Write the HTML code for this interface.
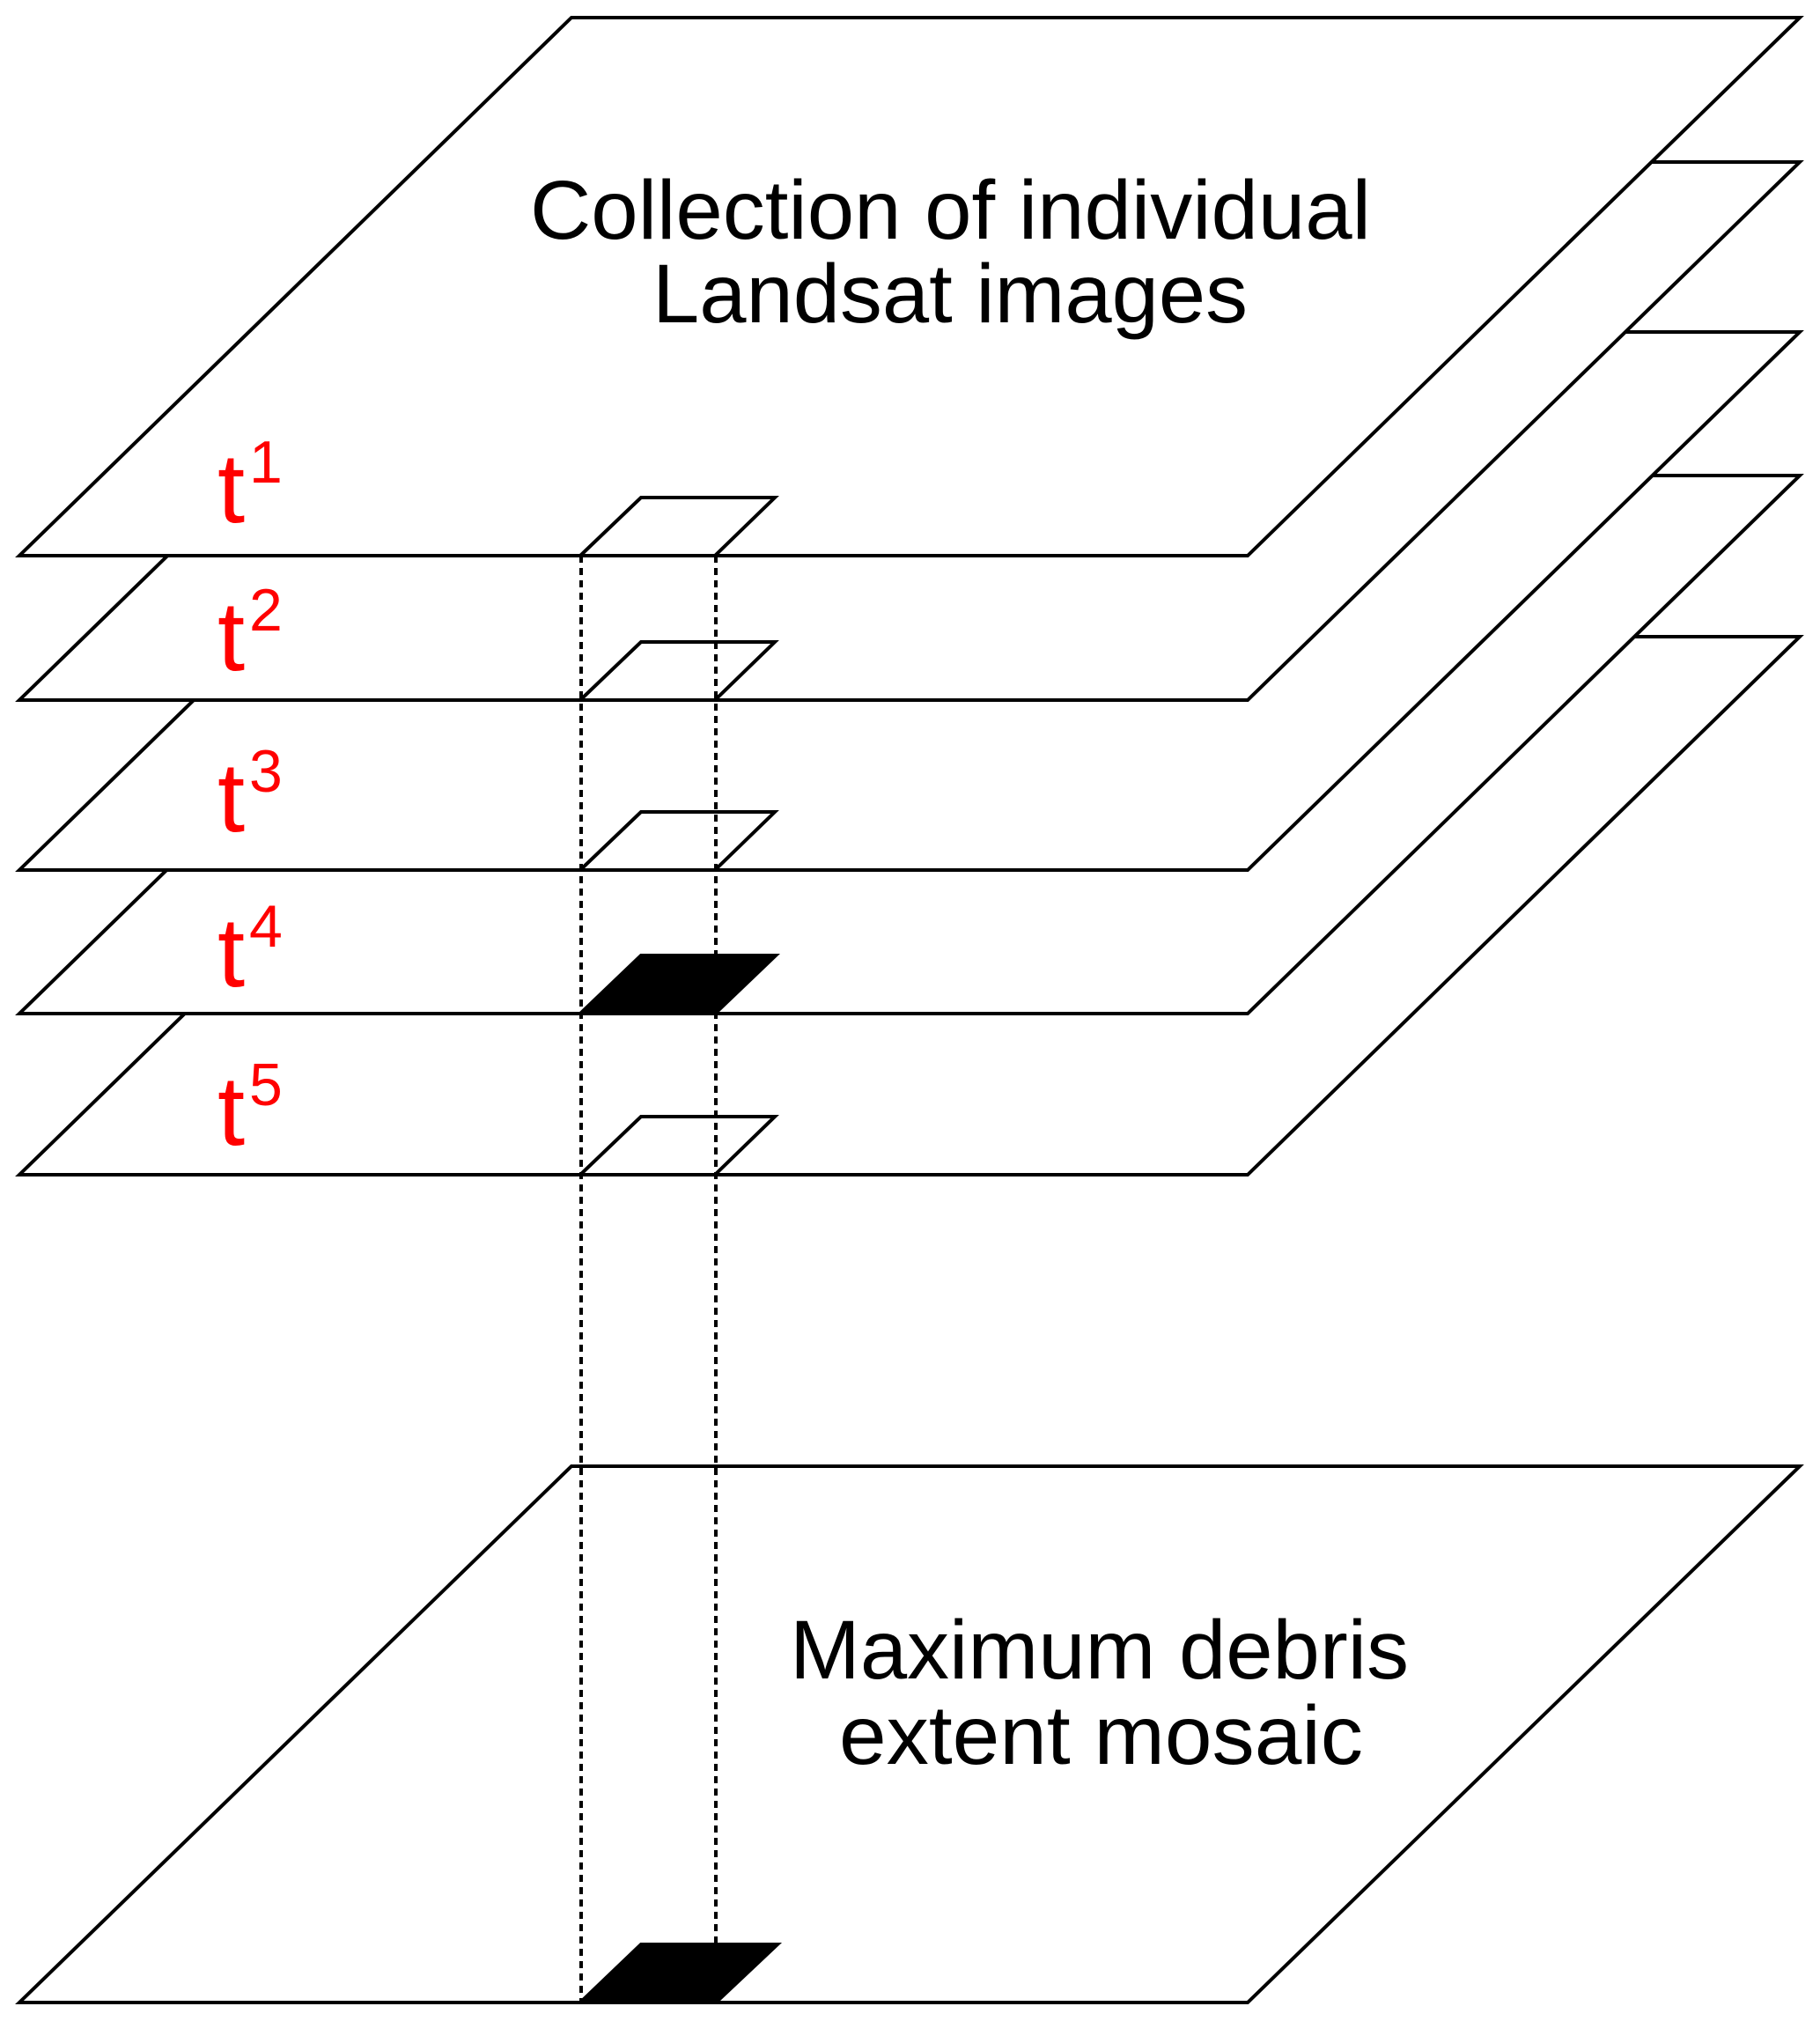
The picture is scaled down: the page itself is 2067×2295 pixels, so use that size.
<!DOCTYPE html>
<html><head><style>html,body{margin:0;padding:0;background:#fff}svg{display:block}</style></head>
<body>
<svg width="2067" height="2295" viewBox="0 0 2067 2295" xmlns="http://www.w3.org/2000/svg" font-family="Liberation Sans, Arial, sans-serif">
<g stroke="#000" stroke-width="4" fill="#fff" stroke-linejoin="miter">
<polygon points="22,1334 1417,1334 2044,723 649,723"/>
<polygon points="728,1268 880,1268 812,1334 659,1334"/>
<polygon points="22,1151 1417,1151 2044,540 649,540"/>
<polygon points="728,1085 881,1085 812,1151 659,1151" fill="#000"/>
<polygon points="22,988 1417,988 2044,377 649,377"/>
<polygon points="728,922 880,922 812,988 659,988"/>
<polygon points="22,795 1417,795 2044,184 649,184"/>
<polygon points="728,729 880,729 812,795 659,795"/>
<polygon points="22,631 1417,631 2044,20 649,20"/>
<polygon points="728,565 880,565 812,631 659,631"/>
<polygon points="22,2274 1417,2274 2044,1665 649,1665"/>
<polygon points="728,2208 883,2208 813,2274 659,2274" fill="#000"/>
</g>
<g stroke="#000" stroke-width="4" stroke-dasharray="8,6">
<line x1="660" y1="631" x2="660" y2="2273"/>
<line x1="813" y1="631" x2="813" y2="2273"/>
</g>
<g font-size="95" fill="#000" text-anchor="start">
<text x="602" y="271" textLength="955" lengthAdjust="spacingAndGlyphs">Collection of individual</text>
<text x="741" y="366" textLength="676" lengthAdjust="spacingAndGlyphs">Landsat images</text>
<text x="897" y="1906" textLength="703" lengthAdjust="spacingAndGlyphs">Maximum debris</text>
<text x="953" y="2003" textLength="595" lengthAdjust="spacingAndGlyphs">extent mosaic</text>
</g>
<g fill="#f00">
<text x="247" y="593" font-size="112">t</text><text x="283" y="548" font-size="68">1</text>
<text x="247" y="761" font-size="112">t</text><text x="283" y="716" font-size="68">2</text>
<text x="247" y="944" font-size="112">t</text><text x="283" y="899" font-size="68">3</text>
<text x="247" y="1120" font-size="112">t</text><text x="283" y="1075" font-size="68">4</text>
<text x="247" y="1300" font-size="112">t</text><text x="283" y="1255" font-size="68">5</text>
</g>
</svg>
</body></html>
